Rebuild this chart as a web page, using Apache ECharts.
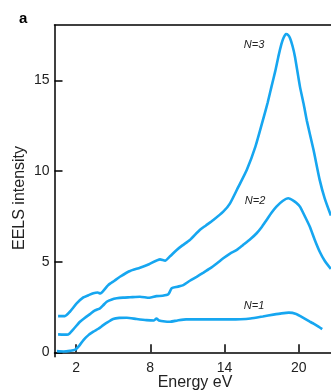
<!DOCTYPE html>
<html>
<head>
<meta charset="utf-8">
<script src="https://cdn.jsdelivr.net/npm/echarts@6/dist/echarts.min.js"></script>
<style>html,body{margin:0;padding:0;background:#fff;}#c{width:331px;height:391px;}</style>
</head>
<body>
<div id="c"></div>
<script>
// Energy (eV), EELS intensity pairs
const n1 = [[0.45,0.07],[1.0,0.05],[1.5,0.08],[1.9,0.13],[2.3,0.4],[2.6,0.68],[3.0,0.95],[3.4,1.14],[3.8,1.3],[4.2,1.5],[4.6,1.68],[5.0,1.84],[5.5,1.9],[6.1,1.91],[6.9,1.84],[7.7,1.78],[8.3,1.76],[8.5,1.87],[8.7,1.76],[9.2,1.7],[9.6,1.69],[10.2,1.76],[10.9,1.82],[12.0,1.82],[13.4,1.82],[14.4,1.82],[15.3,1.83],[16.1,1.87],[17.1,1.98],[17.95,2.08],[18.6,2.15],[19.2,2.19],[19.8,2.12],[20.2,1.97],[20.9,1.69],[21.2,1.58],[21.6,1.42],[21.9,1.28]];
const n2 = [[0.55,0.99],[1.0,0.98],[1.37,0.99],[1.78,1.27],[2.32,1.69],[2.7,1.9],[3.13,2.11],[3.5,2.3],[3.94,2.43],[4.2,2.6],[4.48,2.79],[4.9,2.92],[5.29,2.98],[5.8,3.02],[6.36,3.04],[7.17,3.07],[7.92,3.01],[8.5,3.1],[9.0,3.12],[9.46,3.2],[9.73,3.53],[10.2,3.62],[10.67,3.71],[11.2,3.95],[11.75,4.17],[12.3,4.4],[12.83,4.63],[13.4,4.92],[13.9,5.19],[14.45,5.45],[15.0,5.65],[15.5,5.92],[16.1,6.25],[16.6,6.57],[17.0,6.9],[17.4,7.3],[17.8,7.7],[18.2,8.04],[18.7,8.35],[19.16,8.5],[19.56,8.37],[19.8,8.25],[20.1,8.04],[20.5,7.5],[20.9,6.93],[21.3,6.2],[21.7,5.55],[22.1,5.05],[22.6,4.6]];
const n3 = [[0.55,2.0],[1.1,2.0],[1.5,2.24],[2.05,2.7],[2.59,3.03],[3.0,3.15],[3.4,3.26],[3.75,3.3],[3.95,3.25],[4.6,3.71],[5.1,3.95],[5.55,4.17],[6.36,4.49],[7.17,4.67],[7.9,4.86],[8.79,5.13],[9.2,5.06],[9.6,5.3],[10.14,5.65],[10.6,5.9],[11.2,6.2],[12.0,6.75],[12.5,7.0],[13.1,7.3],[13.9,7.76],[14.45,8.22],[15.1,9.1],[15.8,10.06],[16.5,11.35],[17.1,12.8],[17.5,13.8],[17.8,14.66],[18.1,15.5],[18.35,16.3],[18.6,17.0],[18.76,17.33],[18.97,17.56],[19.15,17.5],[19.3,17.33],[19.5,16.9],[19.7,16.3],[20.1,14.66],[20.4,13.7],[20.65,12.8],[21.2,11.16],[21.7,9.5],[22.1,8.5],[22.6,7.55]];
const xTicks = [2, 8, 14, 20];
const yTicks = [0, 5, 10, 15];
const seriesNames = ['N=1', 'N=2', 'N=3'];

const font = '"Liberation Sans", Arial, sans-serif';
const lineColor = '#16a6f0';
const chart = echarts.init(document.getElementById('c'), null, {renderer: 'canvas'});
const axisLine = {show: true, lineStyle: {color: '#000', width: 1.5}};
chart.setOption({
  animation: false,
  grid: {left: 54.5, top: 25, right: 0, bottom: 34.3, containLabel: false},
  xAxis: [{
    type: 'value', min: 0.26, max: 22.61,
    axisLine: axisLine,
    axisTick: {show: true, inside: true, length: 8, lineStyle: {color: '#000', width: 1.5}, customValues: xTicks},
    axisLabel: {color: '#222', fontSize: 14, fontFamily: font, margin: 4, customValues: xTicks},
    splitLine: {show: false}
  }, {
    type: 'value', position: 'top', min: 0.26, max: 22.61,
    axisLine: axisLine, axisTick: {show: false}, axisLabel: {show: false}, splitLine: {show: false}
  }],
  yAxis: {
    type: 'value', min: -0.24, max: 18.06,
    axisLine: axisLine,
    axisTick: {show: true, inside: true, length: 8, lineStyle: {color: '#000', width: 1.5}, customValues: yTicks},
    axisLabel: {color: '#222', fontSize: 14, fontFamily: font, margin: 5, customValues: yTicks},
    splitLine: {show: false}
  },
  series: [n1, n2, n3].map((d, i) => ({
    name: seriesNames[i], type: 'line', data: d, showSymbol: false, smooth: 0.2,
    lineStyle: {color: lineColor, width: 2.6}, clip: true
  })),
  graphic: [
    {type: 'text', left: 19, top: 11, style: {text: 'a', font: 'bold 15px ' + font, fill: '#000'}},
    {type: 'text', x: 20, y: 198, rotation: Math.PI / 2, style: {text: 'EELS intensity', font: '16px ' + font, fill: '#222', align: 'center', verticalAlign: 'middle'}},
    {type: 'text', x: 195, y: 383, style: {text: 'Energy eV', font: '16px ' + font, fill: '#222', align: 'center', verticalAlign: 'middle'}},
    {type: 'text', x: 254, y: 45, style: {text: seriesNames[2], font: 'italic 11px ' + font, fill: '#222', align: 'center', verticalAlign: 'middle'}},
    {type: 'text', x: 255, y: 201, style: {text: seriesNames[1], font: 'italic 11px ' + font, fill: '#222', align: 'center', verticalAlign: 'middle'}},
    {type: 'text', x: 254, y: 306, style: {text: seriesNames[0], font: 'italic 11px ' + font, fill: '#222', align: 'center', verticalAlign: 'middle'}}
  ]
});
</script>
</body>
</html>
